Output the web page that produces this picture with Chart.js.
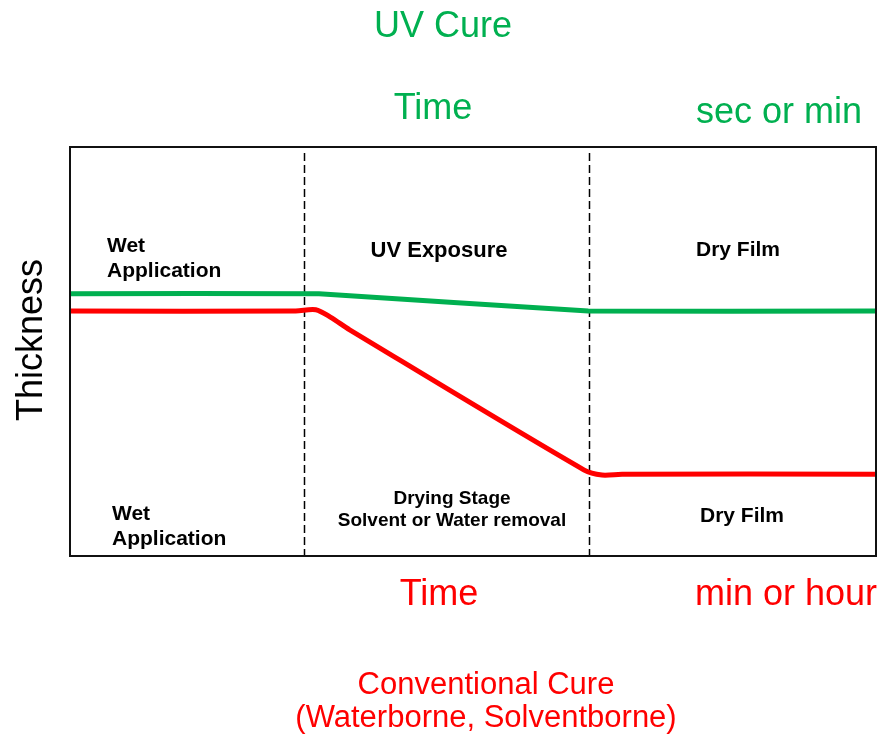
<!DOCTYPE html>
<html>
<head>
<meta charset="utf-8">
<title>UV Cure vs Conventional Cure</title>
<script src="https://cdn.jsdelivr.net/npm/chart.js@4.4.1/dist/chart.umd.min.js"></script>
<style>
  body { margin: 0; background: #fff; }
  #cure { display: block; }
</style>
</head>
<body>
<canvas id="cure" width="882" height="736"></canvas>
<script>
// time axis runs 0..100 across the box, thickness 0..100 bottom to top
const uvTime = [0, 30.9, 64.3, 100];
const uvThickness = [64.1, 64.1, 59.9, 59.9];

const convTime = [0, 28.0, 30.5, 32.3, 34.7, 63.8, 66.0, 68.5, 100];
const convThickness = [59.9, 59.9, 60.2, 58.4, 55.3, 21.0, 19.8, 20.0, 20.0];

// dashed stage separators (time values)
const stageBoundaries = [29.0, 64.4];

const GREEN = '#00B050'
const RED = '#FF0000'
const FONT = '"Liberation Sans", Arial, sans-serif'

const toPoints = (xs, ys) => xs.map((x, i) => ({ x: x, y: ys[i] }))

const text = (ctx, str, x, y, size, color, align, bold) => {
    ctx.font = (bold ? 'bold ' : '') + size + 'px ' + FONT
    ctx.fillStyle = color
    ctx.textAlign = align
    ctx.textBaseline = 'alphabetic'
    ctx.fillText(str, x, y)
}

const decorations = {
    id: 'decorations',
    beforeDatasetsDraw(chart) {
        const ctx = chart.ctx
        const area = chart.chartArea
        const xs = chart.scales.x
        ctx.save()
        ctx.strokeStyle = '#000'
        ctx.lineWidth = 1.5
        ctx.setLineDash([8, 4])
        for (const t of stageBoundaries) {
            const px = Math.round(xs.getPixelForValue(t)) + 0.5
            ctx.beginPath()
            ctx.moveTo(px, area.top + 6)
            ctx.lineTo(px, area.bottom)
            ctx.stroke()
        }
        ctx.restore()
    },
    afterDraw(chart) {
        const ctx = chart.ctx
        const area = chart.chartArea
        ctx.save()
        // box
        ctx.strokeStyle = '#111'
        ctx.lineWidth = 2
        ctx.strokeRect(area.left, area.top, area.right - area.left, area.bottom - area.top)

        // UV cure headings (top)
        text(ctx, 'UV Cure', 443, 37, 36, GREEN, 'center')
        text(ctx, 'Time', 433, 119, 36, GREEN, 'center')
        text(ctx, 'sec or min', 779, 123, 36, GREEN, 'center')

        // conventional cure headings (bottom)
        text(ctx, 'Time', 439, 605, 36, RED, 'center')
        text(ctx, 'min or hour', 786, 605, 36, RED, 'center')
        text(ctx, 'Conventional Cure', 486, 694, 31, RED, 'center')
        text(ctx, '(Waterborne, Solventborne)', 486, 727, 31, RED, 'center')

        // stage labels, upper row = UV, lower row = conventional
        text(ctx, 'Wet', 107, 252, 21, '#000', 'left', true)
        text(ctx, 'Application', 107, 277, 21, '#000', 'left', true)
        text(ctx, 'UV Exposure', 439, 257, 22, '#000', 'center', true)
        text(ctx, 'Dry Film', 738, 256, 21, '#000', 'center', true)

        text(ctx, 'Wet', 112, 520, 21, '#000', 'left', true)
        text(ctx, 'Application', 112, 545, 21, '#000', 'left', true)
        text(ctx, 'Drying Stage', 452, 504, 19, '#000', 'center', true)
        text(ctx, 'Solvent or Water removal', 452, 526, 19, '#000', 'center', true)
        text(ctx, 'Dry Film', 742, 522, 21, '#000', 'center', true)

        // y axis title
        ctx.translate(42, 340)
        ctx.rotate(-Math.PI / 2)
        text(ctx, 'Thickness', 0, 0, 36, '#000', 'center')
        ctx.restore()
    }
}

new Chart(document.getElementById('cure'), {
    type: 'line',
    data: {
        datasets: [
            {
                label: 'UV Cure',
                data: toPoints(uvTime, uvThickness),
                borderColor: GREEN,
                borderWidth: 5,
                pointRadius: 0,
                tension: 0.08,
                fill: false,
            },
            {
                label: 'Conventional Cure',
                data: toPoints(convTime, convThickness),
                borderColor: RED,
                borderWidth: 5,
                pointRadius: 0,
                tension: 0.3,
                fill: false,
            },
        ]
    },
    options: {
        responsive: false,
        animation: false,
        layout: { padding: { left: 70, right: 6, top: 147, bottom: 180 } },
        scales: {
            x: { type: 'linear', min: 0, max: 100, display: false },
            y: { type: 'linear', min: 0, max: 100, display: false },
        },
        plugins: {
            legend: { display: false },
            tooltip: { enabled: false },
        },
    },
    plugins: [decorations]
})
</script>
</body>
</html>
